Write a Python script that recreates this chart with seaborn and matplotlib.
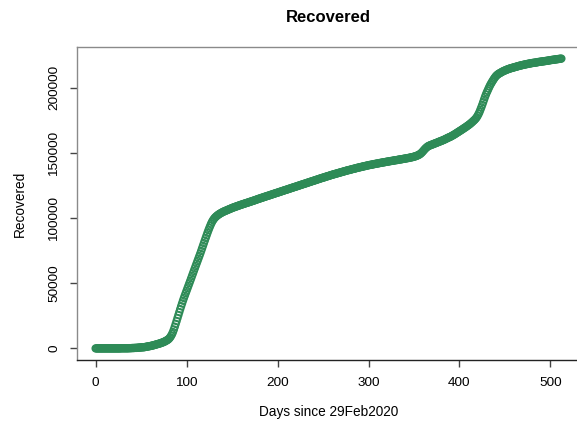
import numpy as np
import pandas as pd
import matplotlib
matplotlib.use('Agg')
import matplotlib.pyplot as plt
import seaborn as sns

# cumulative recovered, in thousands, one value per day since 29 Feb 2020
recovered_k = [
    0, 0, 0, 0, 0, 0, 0, 0, 0, 0,
    0, 0, 0, 0, 0, 0, 0, 0, 0, 0,
    0, 0, 0, 0, 0, 0, 0, 0, 0.1, 0.1,
    0.1, 0.1, 0.1, 0.1, 0.1, 0.1, 0.1, 0.2, 0.2, 0.2,
    0.3, 0.3, 0.3, 0.4, 0.4, 0.4, 0.5, 0.6, 0.6, 0.7,
    0.8, 0.8, 0.9, 0.9, 1.0, 1.2, 1.3, 1.4, 1.6, 1.7,
    1.8, 2.0, 2.1, 2.3, 2.5, 2.7, 2.9, 3.1, 3.3, 3.5,
    3.7, 3.9, 4.2, 4.4, 4.7, 5.0, 5.3, 5.7, 6.1, 6.5,
    7.0, 7.7, 8.6, 9.7, 11.0, 12.6, 14.5, 16.6, 18.8, 21.0,
    23.3, 25.6, 27.9, 30.2, 32.4, 34.5, 36.6, 38.6, 40.5, 42.4,
    44.3, 46.2, 48.1, 50.0, 51.9, 53.8, 55.7, 57.6, 59.5, 61.4,
    63.3, 65.2, 67.1, 69.0, 70.9, 72.8, 74.8, 76.8, 78.8, 80.8,
    82.8, 84.8, 86.8, 88.8, 90.7, 92.5, 94.2, 95.8, 97.2, 98.4,
    99.4, 100.3, 101.0, 101.6, 102.2, 102.7, 103.2, 103.6, 104.0, 104.4,
    104.8, 105.1, 105.4, 105.7, 106.0, 106.3, 106.6, 106.9, 107.2, 107.5,
    107.8, 108.1, 108.3, 108.6, 108.8, 109.1, 109.3, 109.6, 109.8, 110.1,
    110.3, 110.5, 110.8, 111.0, 111.2, 111.5, 111.7, 111.9, 112.1, 112.4,
    112.6, 112.8, 113.1, 113.3, 113.5, 113.8, 114.0, 114.3, 114.5, 114.8,
    115.0, 115.2, 115.5, 115.7, 115.9, 116.2, 116.4, 116.6, 116.9, 117.1,
    117.3, 117.5, 117.8, 118.0, 118.2, 118.5, 118.7, 118.9, 119.2, 119.4,
    119.6, 119.8, 120.1, 120.3, 120.5, 120.8, 121.0, 121.2, 121.5, 121.7,
    121.9, 122.1, 122.4, 122.6, 122.8, 123.1, 123.3, 123.5, 123.8, 124.0,
    124.2, 124.4, 124.7, 124.9, 125.1, 125.4, 125.6, 125.8, 126.1, 126.3,
    126.5, 126.7, 127.0, 127.2, 127.4, 127.7, 127.9, 128.1, 128.4, 128.6,
    128.8, 129.0, 129.3, 129.5, 129.7, 130.0, 130.2, 130.4, 130.7, 130.9,
    131.1, 131.3, 131.5, 131.8, 132.0, 132.2, 132.4, 132.6, 132.9, 133.1,
    133.3, 133.5, 133.7, 133.9, 134.1, 134.3, 134.5, 134.7, 134.9, 135.1,
    135.3, 135.5, 135.7, 135.9, 136.1, 136.3, 136.5, 136.7, 136.9, 137.0,
    137.2, 137.4, 137.6, 137.8, 137.9, 138.1, 138.3, 138.5, 138.7, 138.8,
    139.0, 139.2, 139.3, 139.5, 139.7, 139.8, 140.0, 140.1, 140.3, 140.5,
    140.6, 140.8, 140.9, 141.0, 141.2, 141.3, 141.5, 141.6, 141.7, 141.9,
    142.0, 142.1, 142.3, 142.4, 142.5, 142.7, 142.8, 142.9, 143.0, 143.2,
    143.3, 143.4, 143.5, 143.7, 143.8, 143.9, 144.0, 144.1, 144.3, 144.4,
    144.5, 144.6, 144.7, 144.9, 145.0, 145.1, 145.2, 145.3, 145.5, 145.6,
    145.7, 145.8, 146.0, 146.1, 146.2, 146.4, 146.5, 146.7, 146.8, 147.0,
    147.2, 147.4, 147.6, 147.9, 148.2, 148.5, 148.9, 149.4, 150.0, 150.7,
    151.5, 152.3, 153.1, 153.8, 154.4, 155.0, 155.4, 155.7, 156.0, 156.3,
    156.5, 156.8, 157.1, 157.4, 157.6, 157.9, 158.2, 158.5, 158.8, 159.0,
    159.3, 159.6, 159.9, 160.2, 160.5, 160.9, 161.2, 161.6, 161.9, 162.2,
    162.5, 162.9, 163.3, 163.7, 164.1, 164.5, 165.0, 165.4, 165.9, 166.3,
    166.8, 167.2, 167.7, 168.1, 168.6, 169.1, 169.5, 170.0, 170.5, 171.0,
    171.5, 172.0, 172.6, 173.2, 173.8, 174.5, 175.1, 175.8, 176.6, 177.5,
    178.7, 180.0, 181.5, 183.3, 185.1, 187.0, 189.0, 191.0, 193.0, 194.8,
    196.5, 198.0, 199.6, 201.1, 202.5, 203.7, 204.9, 206.0, 207.1, 208.1,
    209.0, 209.7, 210.3, 210.8, 211.2, 211.6, 212.0, 212.4, 212.8, 213.1,
    213.4, 213.7, 214.0, 214.3, 214.5, 214.8, 215.0, 215.2, 215.4, 215.6,
    215.8, 216.0, 216.2, 216.4, 216.6, 216.8, 217.0, 217.2, 217.3, 217.5,
    217.7, 217.8, 218.0, 218.1, 218.3, 218.4, 218.6, 218.7, 218.8, 219.0,
    219.1, 219.2, 219.3, 219.4, 219.5, 219.6, 219.8, 219.9, 220.0, 220.1,
    220.2, 220.3, 220.4, 220.5, 220.6, 220.7, 220.8, 220.9, 221.0, 221.2,
    221.3, 221.4, 221.5, 221.6, 221.7, 221.8, 221.9, 222.0, 222.1, 222.2,
    222.3, 222.4, 222.5,
]
x_ticks = [0, 100, 200, 300, 400, 500]
y_ticks = [0, 50000, 100000, 150000, 200000]

df = pd.DataFrame({'day': np.arange(len(recovered_k)),
                   'recovered': np.array(recovered_k) * 1000})

sns.set_style('white')
plt.rcParams['font.family'] = ['Liberation Sans', 'DejaVu Sans']
plt.rcParams['text.color'] = 'black'
plt.rcParams['axes.labelcolor'] = 'black'
plt.rcParams['xtick.color'] = 'black'
plt.rcParams['ytick.color'] = 'black'

fig = plt.figure(figsize=(5.77, 4.33), dpi=100)
ax = fig.add_axes([77 / 577, 73 / 433, 503 / 577, 313 / 433])

sns.scatterplot(data=df, x='day', y='recovered', ax=ax, marker='o', s=24,
                facecolor='none', edgecolor='#2E8B57', linewidth=1.1)

# R-style limits: data range padded by 4%
xr = df['day'].max() - df['day'].min()
yr = df['recovered'].max() - df['recovered'].min()
ax.set_xlim(df['day'].min() - 0.04 * xr, df['day'].max() + 0.04 * xr)
ax.set_ylim(df['recovered'].min() - 0.04 * yr, df['recovered'].max() + 0.04 * yr)

ax.set_xticks(x_ticks)
ax.set_yticks(y_ticks)
ax.set_xticklabels([str(t) for t in x_ticks], fontsize=9.7)
ax.set_yticklabels([str(t) for t in y_ticks], fontsize=9.7, rotation=90, va='center')
ax.tick_params(axis='both', direction='out', length=5, width=1,
               color='#444444', left=True, bottom=True)
ax.tick_params(axis='x', pad=7)
ax.tick_params(axis='y', pad=7)

for side in ['left', 'top', 'right']:
    ax.spines[side].set_color('#8a8a8a')
ax.spines['bottom'].set_color('#222222')
for s in ax.spines.values():
    s.set_linewidth(1)

ax.set_title('Recovered', fontsize=12, fontweight='bold', pad=18)
ax.set_xlabel('Days since 29Feb2020', fontsize=9.8)
ax.set_ylabel('Recovered', fontsize=9.8)
ax.xaxis.set_label_coords(0.5, -0.145)
ax.yaxis.set_label_coords(-0.099, 0.5)

fig.savefig('out.png', dpi=100)
plt.close(fig)
